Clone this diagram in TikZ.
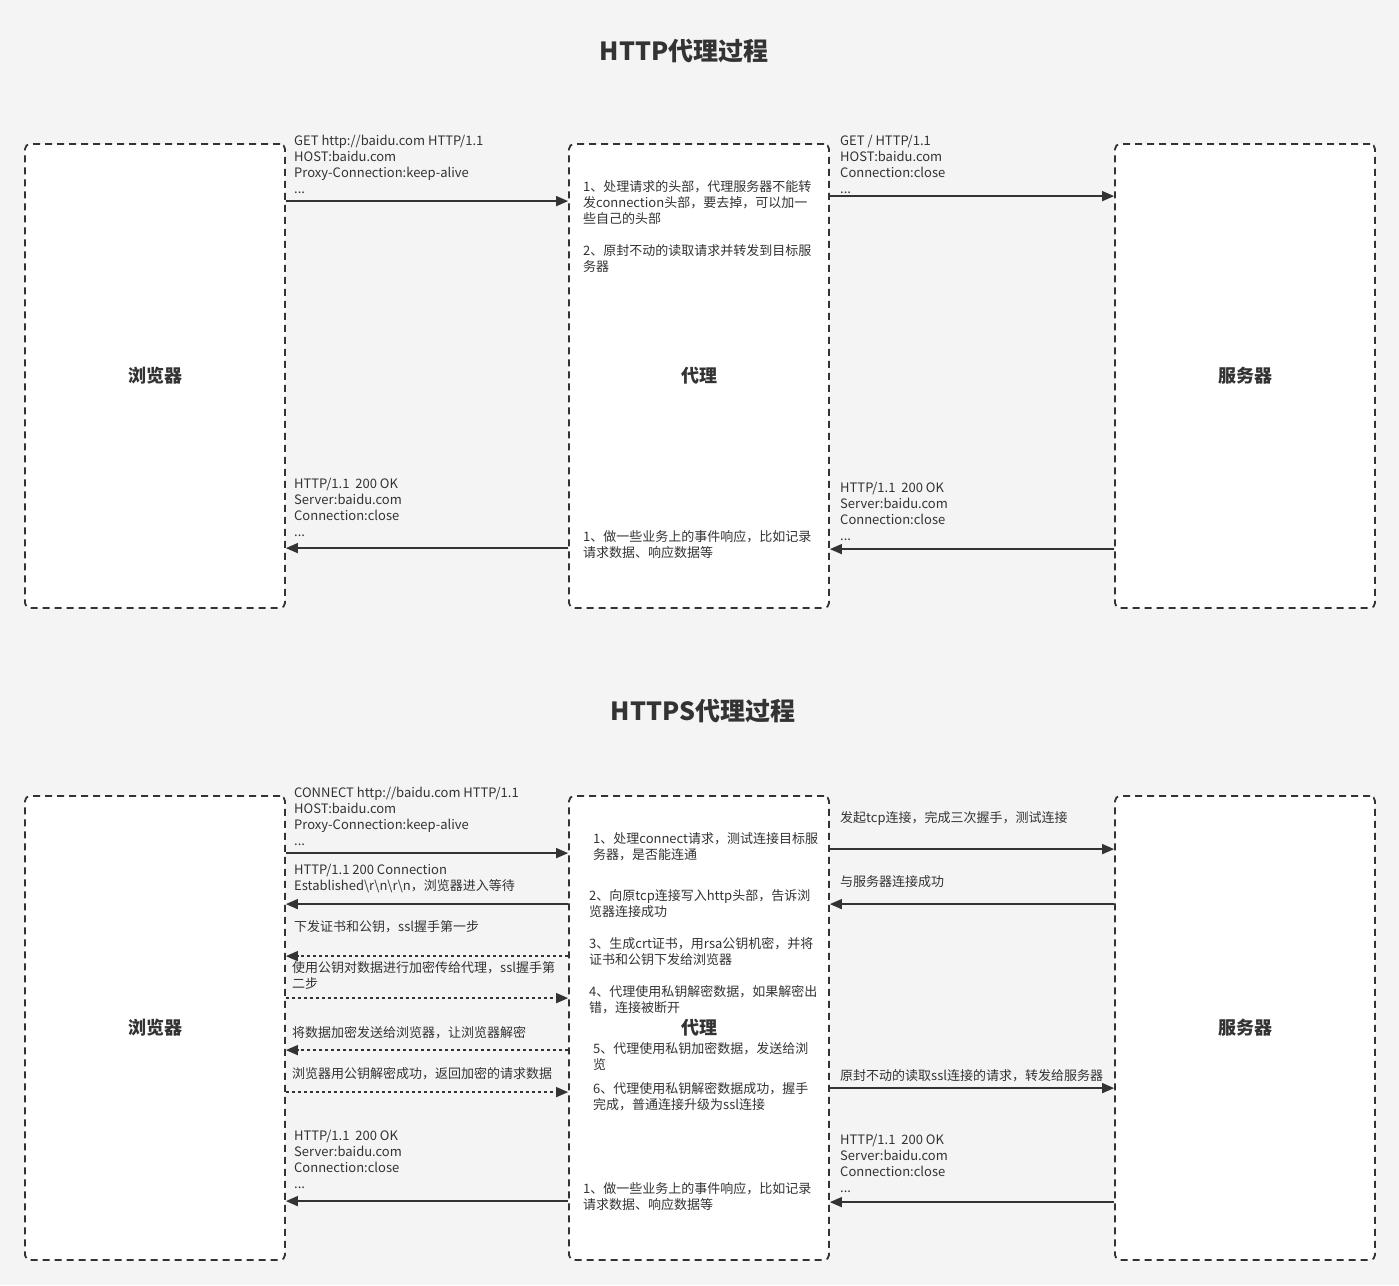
\documentclass[tikz,border=0pt]{standalone}
\usepackage{fontspec}
\setmainfont{Noto Sans CJK SC}
\usetikzlibrary{arrows.meta,calc}
\definecolor{bg}{HTML}{F4F4F4}
\definecolor{ink}{HTML}{333333}
\begin{document}
\begin{tikzpicture}[x=1pt,y=-1pt,
  box/.style={draw=ink, fill=white, line width=1.8pt, dash pattern=on 7pt off 5pt,
    rounded corners=5pt, minimum width=260pt, minimum height=464pt,
    font=\fontsize{18}{21}\selectfont\bfseries, text=ink},
  msg/.style={font=\fontsize{13}{16}\selectfont, text=ink, align=left, anchor=base west, inner sep=0pt},
  flow/.style={draw=ink, line width=1.6pt, -{Triangle[length=12pt,width=10pt]}},
  dflow/.style={flow, dash pattern=on 3pt off 3pt},
  title/.style={font=\fontsize{25}{29}\selectfont\bfseries, text=ink}
]
\fill[bg] (0,0) rectangle (1399,1285);
\useasboundingbox (0,0) rectangle (1399,1285);

% ---------------- HTTP ----------------
\node[title] (t1) at (684,51) {HTTP代理过程};
\node[box] (b1) at (155,376) {浏览器};
\node[box] (p1) at (699,376) {代理};
\node[box] (s1) at (1245,376) {服务器};

\draw[flow] ($(b1.north east)+(0,58)$) -- ($(p1.north west)+(0,58)$);
\draw[flow] ($(p1.north east)+(0,53)$) -- ($(s1.north west)+(0,53)$);
\draw[flow] ($(s1.north west)+(0,406)$) -- ($(p1.north east)+(0,406)$);
\draw[flow] ($(p1.north west)+(0,405)$) -- ($(b1.north east)+(0,405)$);

\node[msg] (m1) at (294,193) {GET http://baidu.com HTTP/1.1\\HOST:baidu.com\\Proxy-Connection:keep-alive\\...};
\node[msg] (m2) at (840,193) {GET / HTTP/1.1\\HOST:baidu.com\\Connection:close\\...};
\node[msg] (m3) at (840,540) {HTTP/1.1\ \ 200 OK\\Server:baidu.com\\Connection:close\\...};
\node[msg] (m4) at (294,536) {HTTP/1.1\ \ 200 OK\\Server:baidu.com\\Connection:close\\...};
\node[msg] (q1) at (583,223) {1、处理请求的头部，代理服务器不能转\\发connection头部，要去掉，可以加一\\些自己的头部};
\node[msg] (q2) at (583,271) {2、原封不动的读取请求并转发到目标服\\务器};
\node[msg] (q3) at (583,557) {1、做一些业务上的事件响应，比如记录\\请求数据、响应数据等};

% ---------------- HTTPS ----------------
\node[title] (t2) at (703,711) {HTTPS代理过程};
\node[box] (b2) at (155,1028) {浏览器};
\node[box] (p2) at (699,1028) {代理};
\node[box] (s2) at (1245,1028) {服务器};

\draw[flow]  ($(b2.north east)+(0,58)$)  -- ($(p2.north west)+(0,58)$);
\draw[flow]  ($(p2.north west)+(0,109)$) -- ($(b2.north east)+(0,109)$);
\draw[dflow] ($(p2.north west)+(0,161)$) -- ($(b2.north east)+(0,161)$);
\draw[dflow] ($(b2.north east)+(0,203)$) -- ($(p2.north west)+(0,203)$);
\draw[dflow] ($(p2.north west)+(0,255)$) -- ($(b2.north east)+(0,255)$);
\draw[dflow] ($(b2.north east)+(0,297)$) -- ($(p2.north west)+(0,297)$);
\draw[flow]  ($(p2.north west)+(0,406)$) -- ($(b2.north east)+(0,406)$);
\draw[flow]  ($(p2.north east)+(0,54)$)  -- ($(s2.north west)+(0,54)$);
\draw[flow]  ($(s2.north west)+(0,109)$) -- ($(p2.north east)+(0,109)$);
\draw[flow]  ($(p2.north east)+(0,293)$) -- ($(s2.north west)+(0,293)$);
\draw[flow]  ($(s2.north west)+(0,407)$) -- ($(p2.north east)+(0,407)$);

\node[msg] (n1) at (294,845) {CONNECT http://baidu.com HTTP/1.1\\HOST:baidu.com\\Proxy-Connection:keep-alive\\...};
\node[msg] (n2) at (294,890) {HTTP/1.1 200 Connection\\Established\textbackslash r\textbackslash n\textbackslash r\textbackslash n，浏览器进入等待};
\node[msg] (n3) at (294,931) {下发证书和公钥，ssl握手第一步};
\node[msg] (n4) at (292,988) {使用公钥对数据进行加密传给代理，ssl握手第\\二步};
\node[msg] (n5) at (292,1037) {将数据加密发送给浏览器，让浏览器解密};
\node[msg] (n6) at (292,1078) {浏览器用公钥解密成功，返回加密的请求数据};
\node[msg] (n7) at (294,1188) {HTTP/1.1\ \ 200 OK\\Server:baidu.com\\Connection:close\\...};
\node[msg] (n8) at (840,822) {发起tcp连接，完成三次握手，测试连接};
\node[msg] (n9) at (840,886) {与服务器连接成功};
\node[msg] (n10) at (840,1080) {原封不动的读取ssl连接的请求，转发给服务器};
\node[msg] (n11) at (840,1192) {HTTP/1.1\ \ 200 OK\\Server:baidu.com\\Connection:close\\...};

\node[msg] (r1) at (593,859) {1、处理connect请求，测试连接目标服\\务器，是否能连通};
\node[msg] (r2) at (589,916) {2、向原tcp连接写入http头部，告诉浏\\览器连接成功};
\node[msg] (r3) at (589,964) {3、生成crt证书，用rsa公钥机密，并将\\证书和公钥下发给浏览器};
\node[msg] (r4) at (589,1012) {4、代理使用私钥解密数据，如果解密出\\错，连接被断开};
\node[msg] (r5) at (593,1069) {5、代理使用私钥加密数据，发送给浏\\览};
\node[msg] (r6) at (593,1109) {6、代理使用私钥解密数据成功，握手\\完成，普通连接升级为ssl连接};
\node[msg] (r7) at (583,1209) {1、做一些业务上的事件响应，比如记录\\请求数据、响应数据等};
\end{tikzpicture}
\end{document}
